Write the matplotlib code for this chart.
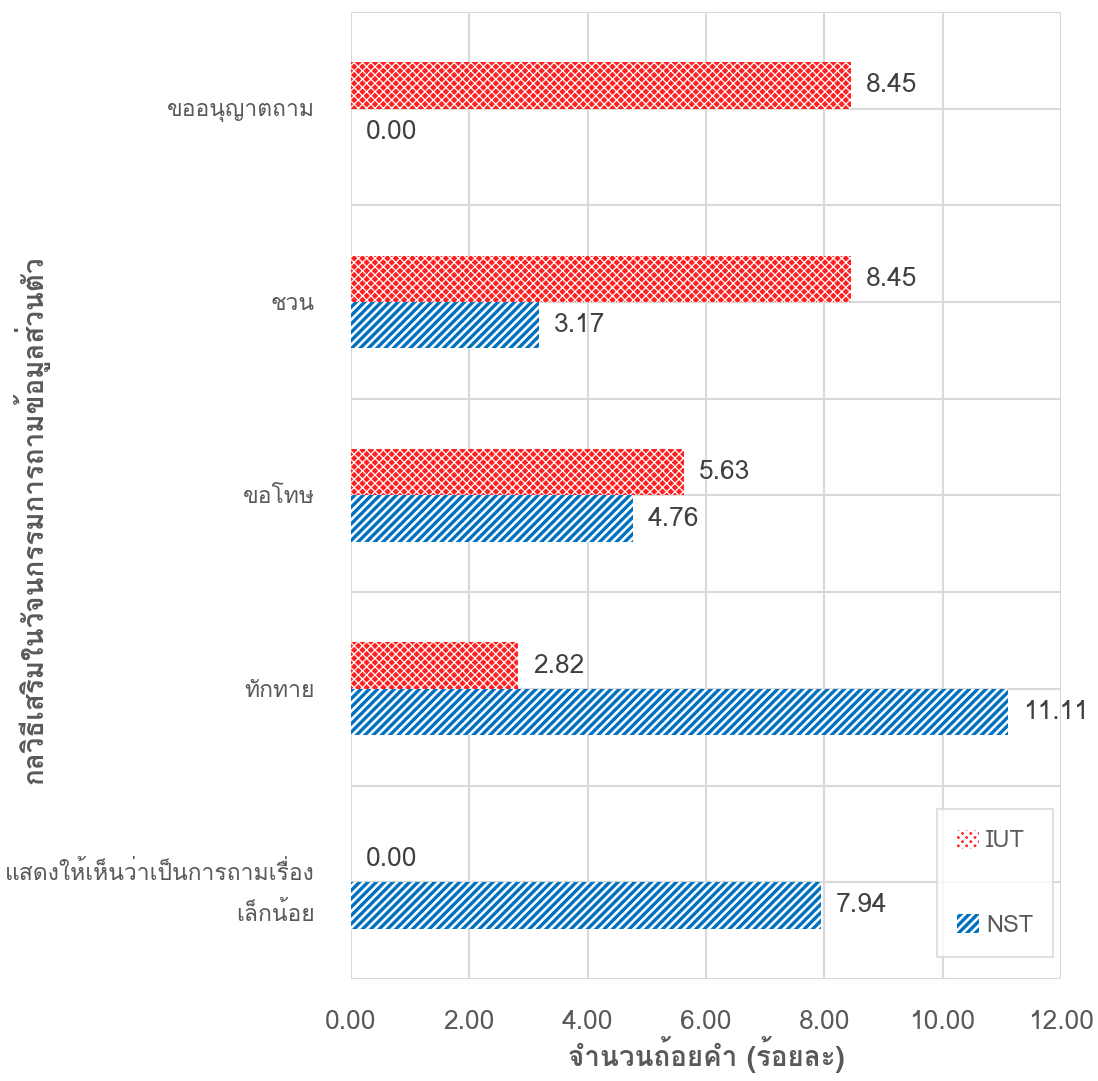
import numpy as np
import matplotlib
matplotlib.use("Agg")
import matplotlib.pyplot as plt
from matplotlib import font_manager
from matplotlib.ft2font import FT2Font

categories = ["ขออนุญาตถาม", "ชวน", "ขอโทษ", "ทักทาย",
              "แสดงให้เห็นว่าเป็นการถามเรื่อง\nเล็กน้อย"]
iut = [8.45, 8.45, 5.63, 2.82, 0.00]
nst = [0.00, 3.17, 4.76, 11.11, 7.94]
series_names = ["IUT", "NST"]
xticks = [0, 2, 4, 6, 8, 10, 12]

# find a font that has Thai glyphs
thai_font = None
for f in font_manager.fontManager.ttflist:
    try:
        if ord("ก") in FT2Font(f.fname).get_charmap():
            thai_font = f.name
            break
    except Exception:
        pass
families = [thai_font, "DejaVu Sans"] if thai_font else ["DejaVu Sans"]
plt.rcParams["font.family"] = families
plt.rcParams["hatch.linewidth"] = 2.4

grey = "#595959"
grid_c = "#d9d9d9"

fig = plt.figure(figsize=(10.98, 10.81), dpi=100)
ax = fig.add_axes([0.3197, 0.0944, 0.6466, 0.8945])

y = np.arange(len(categories))
h = 0.24
b1 = ax.barh(y - h / 2, iut, height=h, color="#ff2020", edgecolor="white",
             hatch="xxxx", linewidth=0, zorder=3, label=series_names[0])
b2 = ax.barh(y + h / 2, nst, height=h, color="white", edgecolor="#0070c0",
             hatch="////", linewidth=0, zorder=3, label=series_names[1])
for p in b1:
    if hasattr(p, "set_hatch_linewidth"):
        p.set_hatch_linewidth(0.9)

for bars, vals in ((b1, iut), (b2, nst)):
    for p, v in zip(bars, vals):
        ax.annotate(f"{v:.2f}", (v, p.get_y() + p.get_height() / 2),
                    xytext=(11, 0), textcoords="offset points",
                    va="center", ha="left", fontsize=19, color="#404040")

ax.set_xlim(0, 12)
ax.set_ylim(len(categories) - 0.5, -0.5)
ax.set_xticks(xticks)
ax.set_xticklabels([f"{v:.2f}" for v in xticks], fontsize=19)
ax.set_yticks(y)
ax.set_yticklabels(categories, linespacing=1.9, fontsize=16.5)
ax.set_yticks(np.arange(len(categories) + 1) - 0.5, minor=True)
ax.tick_params(axis="both", which="both", length=0, colors=grey)
ax.tick_params(axis="y", pad=26)
ax.tick_params(axis="x", pad=22)
ax.grid(True, which="major", color=grid_c, linewidth=1.5, zorder=0)
ax.grid(True, which="minor", axis="y", color=grid_c, linewidth=1.5, zorder=0)
for s in ax.spines.values():
    s.set_visible(False)

ax.set_xlabel("จำนวนถ้อยคำ (ร้อยละ)", fontsize=20, fontweight="bold",
              color=grey, labelpad=2)
ax.set_ylabel("กลวิธีเสริมในวัจนกรรมการถามข้อมูลส่วนตัว", fontsize=20,
              fontweight="bold", color=grey)
ax.yaxis.set_label_coords(-0.425, 0.475)

leg = ax.legend(loc="lower right", bbox_to_anchor=(0.9887, 0.0228), fontsize=17,
                frameon=True, fancybox=False, edgecolor=grid_c,
                borderaxespad=0, labelspacing=2.6, handlelength=0.9,
                handleheight=0.9, borderpad=0.85, handletextpad=0.3,
                labelcolor=grey)
leg.get_frame().set_linewidth(1.5)

fig.savefig("out.png", dpi=100, facecolor="white")
